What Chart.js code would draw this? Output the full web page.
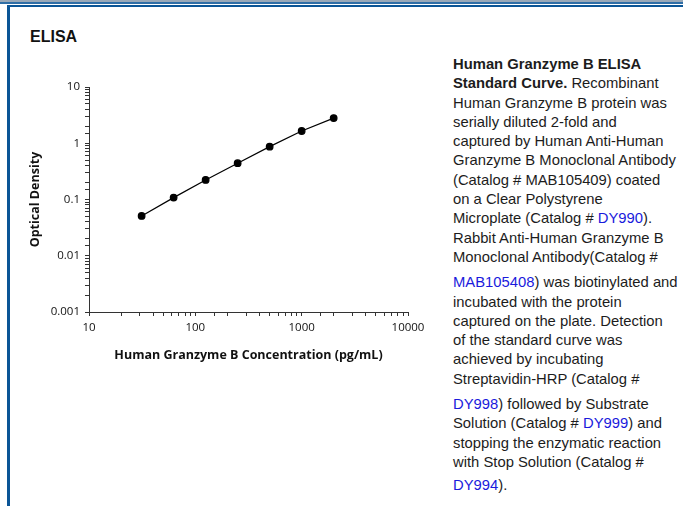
<!DOCTYPE html>
<html>
<head>
<meta charset="utf-8">
<script src="https://cdn.jsdelivr.net/npm/chart.js@4"></script>
<style>
  body { margin:0; width:683px; height:506px; background:#fff; position:relative; overflow:hidden; font-family:"Liberation Sans", Arial, sans-serif; }
  #topgray { position:absolute; left:0; top:0; width:683px; height:2px; background:#9aa9b8; }
  #topblue { position:absolute; left:0; top:2px; width:683px; height:2px; background:#2f6ea6; }
  #frame { position:absolute; left:7px; top:5px; width:700px; height:520px; border-left:3px solid #0b5596; border-top:2px solid #0b5596; }
  #title { position:absolute; left:30px; top:28px; font-weight:bold; font-size:16px; color:#111; }
  #wrap { position:absolute; left:20px; top:70px; width:420px; height:295px; }
  #desc { position:absolute; left:453px; top:55px; font-size:14.8px; line-height:19.3px; color:#1c1c1c; white-space:nowrap; }
  #desc a { color:#1a1adc; text-decoration:none; }
  #desc .gap { margin-top:6px; }
  #desc .gap2 { margin-top:4px; }
</style>
</head>
<body>
<div id="topgray"></div>
<div id="topblue"></div>
<div id="frame"></div>
<div id="title">ELISA</div>
<div id="wrap"><canvas id="grafico"></canvas></div>
<div id="desc">
<div><b>Human Granzyme B ELISA</b></div>
<div><b>Standard Curve.</b> Recombinant</div>
<div>Human Granzyme B protein was</div>
<div>serially diluted 2-fold and</div>
<div>captured by Human Anti-Human</div>
<div>Granzyme B Monoclonal Antibody</div>
<div>(Catalog # MAB105409) coated</div>
<div>on a Clear Polystyrene</div>
<div>Microplate (Catalog # <a>DY990</a>).</div>
<div>Rabbit Anti-Human Granzyme B</div>
<div>Monoclonal Antibody(Catalog #</div>
<div class="gap"><a>MAB105408</a>) was biotinylated and</div>
<div>incubated with the protein</div>
<div>captured on the plate. Detection</div>
<div>of the standard curve was</div>
<div>achieved by incubating</div>
<div>Streptavidin-HRP (Catalog #</div>
<div class="gap"><a>DY998</a>) followed by Substrate</div>
<div>Solution (Catalog # <a>DY999</a>) and</div>
<div>stopping the enzymatic reaction</div>
<div>with Stop Solution (Catalog #</div>
<div class="gap2"><a>DY994</a>).</div>
</div>
<script>
const concentraciones = [31.25, 62.5, 125, 250, 500, 1000, 2000]
const densidad = [0.051, 0.108, 0.223, 0.442, 0.87, 1.65, 2.8]
const ticksX = [10, 100, 1000, 10000]
const ticksY = [0.001, 0.01, 0.1, 1, 10]

function esPotencia(v, lista){
  return lista.some(t => Math.abs(v - t) / t < 1e-6)
}

function init(){
  const grafico = document.getElementById("grafico")
  new Chart(grafico, {
    type: 'line',
    data: {
      datasets: [{
        label: 'OD',
        data: concentraciones.map((c, i) => ({x: c, y: densidad[i]})),
        borderColor: '#000',
        backgroundColor: '#000',
        borderWidth: 1.2,
        pointRadius: 3.3,
        pointHoverRadius: 3.3,
        tension: 0
      }]
    },
    options: {
      responsive: true,
      maintainAspectRatio: false,
      animation: false,
      layout: { padding: {left: 0, right: 32, top: 17, bottom: 0} },
      plugins: { legend: {display: false}, tooltip: {enabled: false} },
      scales: {
        x: {
          type: 'logarithmic',
          min: 10,
          max: 10000,
          afterFit: s => { s.height = 53 },
          border: { color: '#333', width: 1 },
          grid: { drawOnChartArea: false, tickLength: 4, tickColor: '#333' },
          ticks: {
            autoSkip: false,
            maxRotation: 0,
            padding: 5,
            color: '#111',
            font: { family: 'Open Sans', size: 11.5 },
            callback: v => esPotencia(v, ticksX) ? String(v) : ''
          },
          title: {
            display: true,
            text: 'Human Granzyme B Concentration (pg/mL)',
            color: '#111',
            font: { family: 'Open Sans', size: 12.5, weight: 'bold' },
            padding: {top: 4, bottom: 2}
          }
        },
        y: {
          type: 'logarithmic',
          min: 0.001,
          max: 10,
          afterFit: s => { s.width = 69 },
          border: { color: '#333', width: 1 },
          grid: { drawOnChartArea: false, tickLength: 4, tickColor: '#333' },
          ticks: {
            autoSkip: false,
            padding: 5,
            color: '#111',
            font: { family: 'Open Sans', size: 11.5 },
            callback: v => esPotencia(v, ticksY) ? String(v) : ''
          },
          title: {
            display: true,
            text: 'Optical Density',
            color: '#111',
            font: { family: 'Open Sans', size: 12.5, weight: 'bold' },
            padding: {top: 8, bottom: 4}
          }
        }
      }
    }
  })
}

init()
</script>
</body>
</html>
